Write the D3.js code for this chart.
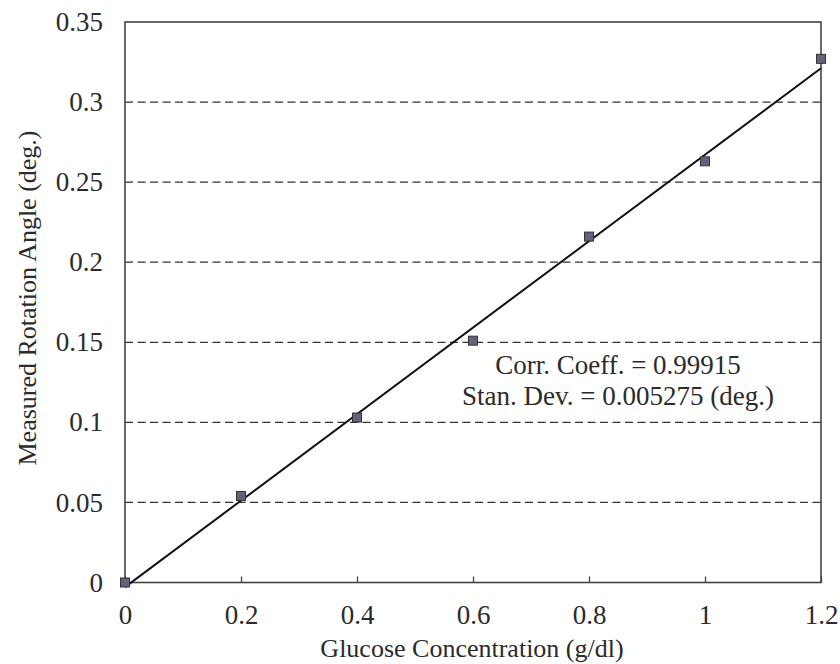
<!DOCTYPE html>
<html>
<head>
<meta charset="utf-8">
<script src="https://cdn.jsdelivr.net/npm/d3@7"></script>
<style>
  html, body { margin: 0; padding: 0; background: #fff; }
  svg text { font-family: "Liberation Serif", "DejaVu Serif", serif; fill: #2b2b2b; }
</style>
</head>
<body>
<svg id="chart" width="840" height="664"></svg>
<script>
// ---- data ----
const concentration = [0, 0.2, 0.4, 0.6, 0.8, 1.0, 1.2];
const rotationAngle = [0.000, 0.054, 0.103, 0.151, 0.216, 0.263, 0.327];
const xTicks = [0, 0.2, 0.4, 0.6, 0.8, 1, 1.2];
const yTicks = [0, 0.05, 0.1, 0.15, 0.2, 0.25, 0.3, 0.35];
const gridValues = [0.05, 0.1, 0.15, 0.2, 0.25, 0.3];
const annotationLines = ["Corr. Coeff. = 0.99915", "Stan. Dev. = 0.005275 (deg.)"];
const xTitle = "Glucose Concentration (g/dl)";
const yTitle = "Measured Rotation Angle (deg.)";

(function () {
// ---- layout ----
const pL = 125, pR = 821, pT = 22, pB = 582.5;
const svg = d3.select("#chart");

const x = d3.scaleLinear().domain([0, 1.2]).range([pL, pR]);
const y = d3.scaleLinear().domain([0, 0.35]).range([pB, pT]);

// least-squares fit
const n = concentration.length;
const mx = d3.mean(concentration), my = d3.mean(rotationAngle);
let sxy = 0, sxx = 0;
for (let i = 0; i < n; i++) {
  sxy += (concentration[i] - mx) * (rotationAngle[i] - my);
  sxx += (concentration[i] - mx) ** 2;
}
const slope = sxy / sxx, intercept = my - slope * mx;
const fitX = [0, 1.2];

// gridlines
svg.append("g").selectAll("line").data(gridValues).join("line")
  .attr("x1", pL).attr("x2", pR)
  .attr("y1", d => y(d)).attr("y2", d => y(d))
  .attr("stroke", "#333").attr("stroke-width", 1.3)
  .attr("stroke-dasharray", "8,4.5");

// frame
svg.append("rect")
  .attr("x", pL).attr("y", pT)
  .attr("width", pR - pL).attr("height", pB - pT)
  .attr("fill", "none").attr("stroke", "#444").attr("stroke-width", 1.6);

// x axis (inward ticks)
const xAxis = d3.axisBottom(x).tickValues(xTicks).tickSizeInner(-6).tickSizeOuter(0)
  .tickFormat(d3.format("~g")).tickPadding(14);
const gx = svg.append("g").attr("transform", `translate(0,${pB})`).call(xAxis);
gx.select(".domain").remove();
gx.selectAll(".tick line").attr("stroke", "#444").attr("stroke-width", 1.3);
gx.selectAll(".tick text").attr("font-size", 27).attr("fill", "#2b2b2b")
  .attr("font-family", "Liberation Serif").attr("y", 22).attr("dy", "0.71em");

// y axis
const yAxis = d3.axisLeft(y).tickValues(yTicks).tickSize(0).tickPadding(22)
  .tickFormat(d3.format("~g"));
const gy = svg.append("g").attr("transform", `translate(${pL},0)`).call(yAxis);
gy.select(".domain").remove();
gy.selectAll(".tick text").attr("font-size", 27).attr("fill", "#2b2b2b")
  .attr("font-family", "Liberation Serif");

// fit line
svg.append("line")
  .attr("x1", x(fitX[0])).attr("y1", y(intercept + slope * fitX[0]))
  .attr("x2", x(fitX[1])).attr("y2", y(intercept + slope * fitX[1]))
  .attr("stroke", "#111").attr("stroke-width", 2);

// markers
const ms = 9;
svg.append("g").selectAll("rect").data(concentration).join("rect")
  .attr("x", (d) => x(d) - ms / 2)
  .attr("y", (d, i) => y(rotationAngle[i]) - ms / 2)
  .attr("width", ms).attr("height", ms)
  .attr("fill", "#62627a").attr("stroke", "#333").attr("stroke-width", 1);

// annotation
svg.append("g").selectAll("text").data(annotationLines).join("text")
  .attr("x", 618).attr("y", (d, i) => 374 + i * 31)
  .attr("text-anchor", "middle").attr("font-size", 27)
  .text(d => d);

// axis titles
svg.append("text").attr("x", 472).attr("y", 657)
  .attr("text-anchor", "middle").attr("font-size", 26).text(xTitle);
svg.append("text")
  .attr("transform", "translate(36,298) rotate(-90)")
  .attr("text-anchor", "middle").attr("font-size", 26).text(yTitle);
})();
</script>
</body>
</html>
